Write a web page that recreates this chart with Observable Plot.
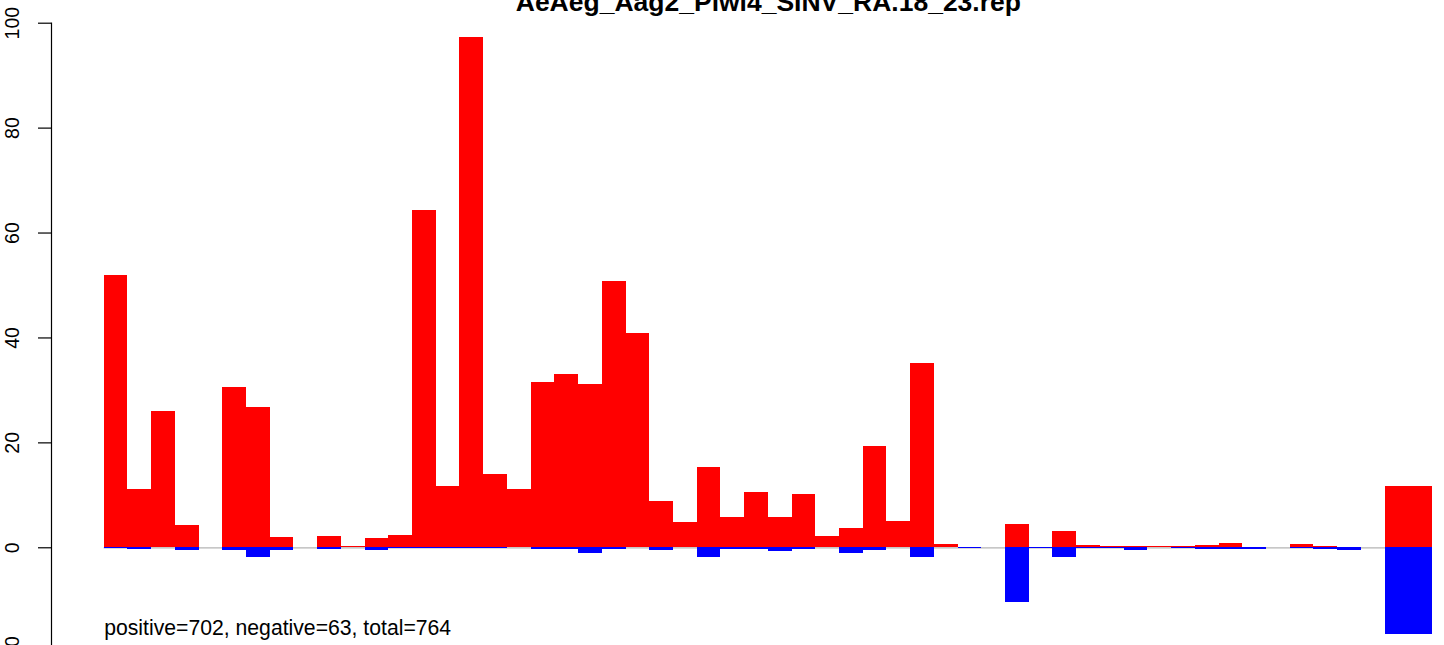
<!DOCTYPE html>
<html>
<head>
<meta charset="utf-8">
<script src="https://cdn.jsdelivr.net/npm/d3@7"></script>
<script src="https://cdn.jsdelivr.net/npm/@observablehq/plot@0.6"></script>
<style>
  html, body { margin: 0; padding: 0; background: #fff; overflow: hidden; }
  #chart svg { display: block; }
</style>
</head>
<body>
<div id="chart"></div>
<script>
// ---- data ----
const title = "AeAeg_Aag2_Piwi4_SINV_RA.18_23.rep";
const caption = "positive=702, negative=63, total=764";
const positions = [1,2,3,4,5,6,7,8,9,10,11,12,13,14,15,16,17,18,19,20,21,22,23,24,25,26,27,28,
                   29,30,31,32,33,34,35,36,37,38,39,40,41,42,43,44,45,46,47,48,49,50,51,52,53,54,55,56];
const positive = [51.9, 11.1, 25.9, 4.2, 0, 30.5, 26.7, 1.9, 0, 2.1, 0.25, 1.7, 2.3, 64.3, 11.6, 97.3,
                  13.9, 11.1, 31.5, 33.0, 31.1, 50.7, 40.8, 8.8, 4.8, 15.3, 5.7, 10.5, 5.7, 10.1, 2.1, 3.6,
                  19.3, 5.0, 35.1, 0.6, 0, 0, 4.4, 0, 3.1, 0.4, 0.2, 0.2, 0.2, 0.2, 0.4, 0.8, 0, 0,
                  0.6, 0.2, 0, 0, 11.6, 11.6];
const negative = [-0.1, -0.3, 0, -0.6, 0, -0.6, -1.9, -0.6, 0, -0.3, 0, -0.6, -0.1, -0.1, -0.1, -0.1,
                  -0.1, 0, -0.3, -0.3, -1.0, -0.3, 0, -0.6, 0, -1.9, -0.3, -0.3, -0.8, -0.3, 0, -1.0,
                  -0.6, 0, -1.9, 0, -0.1, 0, -10.5, -0.1, -1.9, -0.1, -0.1, -0.6, 0, -0.1, -0.3, -0.3, -0.3, 0,
                  -0.1, -0.3, -0.6, 0, -16.6, -16.6];
const yTicks = [-20, 0, 20, 40, 60, 80, 100];
const yDomain = [-20, 100];

// ---- table for the library ----
const rows = positions.map((p, i) => ({pos: p, positive: positive[i], negative: negative[i]}));
const xLo = positions[0] - 0.5, xHi = positions[positions.length - 1] + 0.5;

const chart = Plot.plot({
  width: 1444,
  height: 645,
  marginLeft: 51,
  marginRight: 12,
  marginTop: 22.7,
  marginBottom: 0,
  style: {fontFamily: "'Liberation Sans', Arial, Helvetica, sans-serif", background: "#fff", color: "#000"},
  x: {domain: [xLo, xHi], range: [103.7, 1432], axis: null},
  y: {domain: yDomain, range: [652.2, 22.7], axis: null},
  marks: [
    Plot.ruleY([0], {x1: xLo, x2: xHi, stroke: "#b4b4b4", strokeWidth: 1.2}),
    Plot.rect(rows, {x1: d => d.pos - 0.5, x2: d => d.pos + 0.5, y1: 0, y2: "positive",
                     fill: "#ff0000", shapeRendering: "crispEdges"}),
    Plot.rect(rows, {x1: d => d.pos - 0.5, x2: d => d.pos + 0.5, y1: 0, y2: "negative",
                     fill: "#0000ff", shapeRendering: "crispEdges"}),
    Plot.frame({anchor: "left", stroke: "#000", strokeWidth: 1.2}),
    Plot.axisY(yTicks, {anchor: "left", tickSize: 13, tickPadding: 20, tickRotate: -90,
                        fontSize: 19.5, stroke: "#000", strokeWidth: 1.2, fill: "#000"}),
    Plot.text([title], {x: (xLo + xHi) / 2, frameAnchor: "top", dy: -12.7, lineAnchor: "bottom",
                        text: d => d, fontSize: 26.5, fontWeight: "bold", fill: "#000"}),
    Plot.text([caption], {x: xLo, frameAnchor: "bottom", dy: -11, lineAnchor: "bottom",
                          textAnchor: "start", text: d => d, fontSize: 21.2, fill: "#000"})
  ]
});
document.getElementById("chart").appendChild(chart);
</script>
</body>
</html>
